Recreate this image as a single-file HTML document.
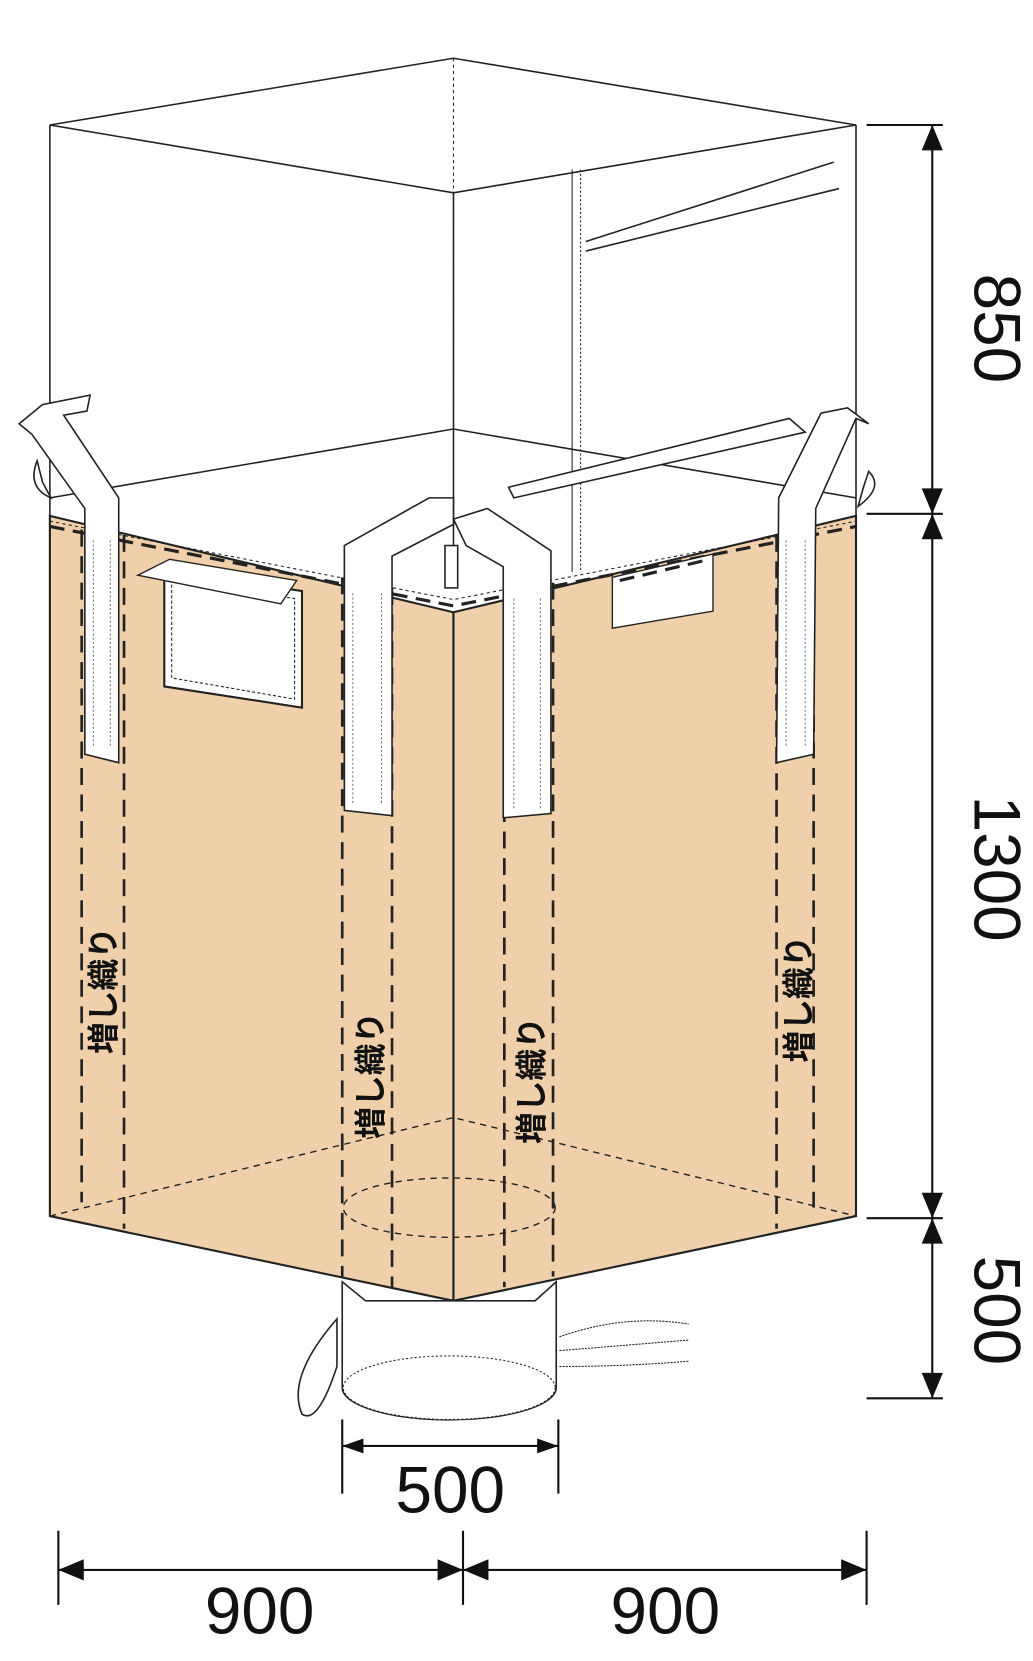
<!DOCTYPE html>
<html><head><meta charset="utf-8"><style>
html,body{margin:0;padding:0;background:#fff;}
svg{display:block;}
text{font-family:"Liberation Sans","Noto Sans CJK JP",sans-serif;}
</style></head><body>
<svg width="1033" height="1661" viewBox="0 0 975 1568" xmlns="http://www.w3.org/2000/svg">
<g fill="none" stroke="#222" stroke-width="1.5">
<!-- top cuff -->
<polygon points="47,118 428,55 808,118 428,182" fill="#fff"/>
<line x1="47" y1="118" x2="47" y2="487"/>
<line x1="808" y1="118" x2="808" y2="487"/>
<line x1="428" y1="182" x2="428" y2="520"/>
<line x1="428" y1="55" x2="428" y2="405" stroke-dasharray="3,3" stroke-width="1"/>
<line x1="540" y1="160" x2="540" y2="540" stroke-width="1"/>
<line x1="548" y1="160" x2="548" y2="540" stroke-width="1" stroke-dasharray="2,2"/>
<polyline points="553,228 787,153"/>
<polyline points="553,237 792,178"/>
<polyline points="47,470 428,405 808,470"/>
</g>
<!-- body -->
<polygon points="47,487 428,578 428,1228 47,1148" fill="#EFD0AA" stroke="#222" stroke-width="2"/>
<polygon points="428,578 808,487 808,1148 428,1228" fill="#EFD0AA" stroke="#222" stroke-width="2"/>
<g fill="none" stroke="#222">
<polyline points="47,497 428,572 808,497" stroke-width="3" stroke-dasharray="14,8"/>
<polyline points="47,492 428,566 808,492" stroke-width="1" stroke-dasharray="3,3"/>
<!-- bottom dashed -->
<polyline points="47,1148 428,1055 808,1148" stroke-width="1.3" stroke-dasharray="6,5"/>
<ellipse cx="424" cy="1140" rx="100" ry="28" stroke-width="1.3" stroke-dasharray="6,5"/>
<!-- vertical dashed reinforcement -->
<g stroke-width="2.5" stroke-dasharray="16,9">
<line x1="77" y1="500" x2="77" y2="1135"/><line x1="117" y1="505" x2="117" y2="1160"/>
<line x1="323" y1="545" x2="323" y2="1205"/><line x1="370" y1="555" x2="370" y2="1215"/>
<line x1="476" y1="560" x2="476" y2="1215"/><line x1="522" y1="550" x2="522" y2="1205"/>
<line x1="733" y1="505" x2="733" y2="1160"/><line x1="768" y1="500" x2="768" y2="1140"/>
</g>
</g>
<!-- labels/windows -->
<polygon points="155,538 285,558 285,668 155,648" fill="#fff" stroke="#222" stroke-width="2"/>
<polygon points="162,548 278,565 278,660 162,640" fill="#fff" stroke="#222" stroke-width="1" stroke-dasharray="3,2"/>
<polygon points="130,543 160,528 280,548 265,570" fill="#fff" stroke="#222" stroke-width="1.3"/>
<polygon points="578,545 673,523 673,577 578,593" fill="#fff" stroke="#222" stroke-width="1.3"/>
<line x1="585" y1="548" x2="670" y2="528" stroke="#222" stroke-width="3" stroke-dasharray="14,8"/>
<!-- straps -->
<g fill="#fff" stroke="#222" stroke-width="1.5">
<path d="M18,400 L40,382 L85,373 L82,388 L60,392 L112,470 L112,720 L80,712 L80,480 L30,410 Z"/>
<path d="M35,435 Q25,460 48,470 L40,455 Z"/>
<path d="M325,515 L405,470 L428,470 L428,495 L370,525 L370,770 L325,765 Z"/>
<path d="M520,520 L460,480 L428,490 L440,515 L475,535 L475,772 L520,768 Z"/>
<path d="M770,480 L808,395 L820,400 L800,385 L775,390 L735,470 L733,720 L768,712 Z"/>
<path d="M820,445 Q835,460 810,478 L815,460 Z"/>
<path d="M480,460 L745,395 L760,408 L485,470 Z"/>
<rect x="420" y="515" width="12" height="40"/>
</g>
<g stroke="#555" stroke-width="0.8" stroke-dasharray="2,2" fill="none">
<line x1="88" y1="510" x2="88" y2="705"/><line x1="104" y1="510" x2="104" y2="705"/>
<line x1="333" y1="560" x2="333" y2="760"/><line x1="360" y1="560" x2="360" y2="760"/>
<line x1="485" y1="565" x2="485" y2="765"/><line x1="510" y1="565" x2="510" y2="765"/>
<line x1="742" y1="510" x2="742" y2="705"/><line x1="760" y1="510" x2="760" y2="705"/>
</g>
<!-- spout -->
<g fill="#fff" stroke="#222" stroke-width="1.5">
<path d="M323,1210 L323,1310 A100,30 0 0 0 525,1310 L525,1210 L505,1228 L345,1228 Z"/>
<ellipse cx="424" cy="1310" rx="100" ry="30" stroke-dasharray="2,2" stroke-width="1"/>
<path d="M318,1245 Q270,1300 285,1335 Q300,1345 318,1290 Z"/>
<path d="M528,1262 Q590,1240 650,1250 M528,1275 Q590,1270 650,1265 M528,1290 Q590,1290 650,1285" fill="none" stroke-width="1" stroke-dasharray="2,1"/>
</g>
<g font-size="30" font-weight="bold" fill="#111">
<text transform="translate(108,995) rotate(-90)">増し織り</text>
<text transform="translate(360,1075) rotate(-90)">増し織り</text>
<text transform="translate(512,1080) rotate(-90)">増し織り</text>
<text transform="translate(764,1003) rotate(-90)">増し織り</text>
</g>
<!-- dimensions -->
<g stroke="#111" stroke-width="2" fill="none">
<line x1="818" y1="118" x2="890" y2="118"/><line x1="818" y1="485" x2="890" y2="485"/>
<line x1="818" y1="1150" x2="890" y2="1150"/><line x1="818" y1="1320" x2="890" y2="1320"/>
<line x1="880" y1="118" x2="880" y2="1320"/>
<line x1="323" y1="1340" x2="323" y2="1410"/><line x1="527" y1="1340" x2="527" y2="1410"/>
<line x1="323" y1="1365" x2="527" y2="1365"/>
<line x1="55" y1="1445" x2="55" y2="1515"/><line x1="437" y1="1445" x2="437" y2="1515"/><line x1="818" y1="1445" x2="818" y2="1515"/>
<line x1="55" y1="1482" x2="818" y2="1482"/>
</g>
<g fill="#111">
<polygon points="880,118 870,142 890,142"/><polygon points="880,485 870,461 890,461"/>
<polygon points="880,485 870,509 890,509"/><polygon points="880,1150 870,1126 890,1126"/>
<polygon points="880,1150 870,1174 890,1174"/><polygon points="880,1320 870,1296 890,1296"/>
<polygon points="323,1365 343,1358 343,1372"/><polygon points="527,1365 507,1358 507,1372"/>
<polygon points="55,1482 79,1472 79,1492"/><polygon points="437,1482 413,1472 413,1492"/>
<polygon points="437,1482 461,1472 461,1492"/><polygon points="818,1482 794,1472 794,1492"/>
</g>
<g font-size="62" fill="#111" text-anchor="middle">
<text transform="translate(920,310) rotate(90)">850</text>
<text transform="translate(920,820) rotate(90)">1300</text>
<text transform="translate(920,1237) rotate(90)">500</text>
<text x="425" y="1428">500</text>
<text x="245" y="1542">900</text>
<text x="628" y="1542">900</text>
</g>
</svg>
</body></html>
